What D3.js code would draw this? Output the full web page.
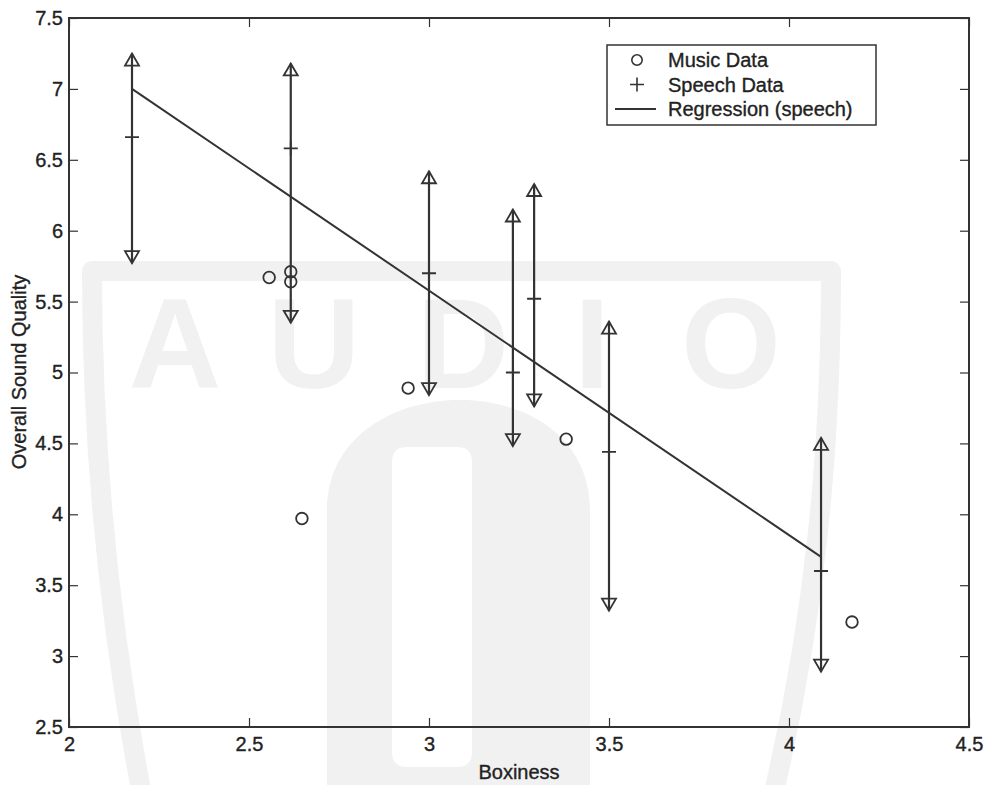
<!DOCTYPE html>
<html>
<head>
<meta charset="utf-8">
<script src="https://cdn.jsdelivr.net/npm/d3@7"></script>
<style>
  body { margin: 0; background: #fff; }
  svg { display: block; font-family: "Liberation Sans", Arial, sans-serif; }
</style>
</head>
<body>
<div class="chart-container"></div>
<script>
// speech data: mean with range (up/down triangles at the ends)
const speechX    = [2.175, 2.616, 3.0, 3.233, 3.292, 3.5, 4.089];
const speechMean = [6.66, 6.58, 5.70, 5.00, 5.52, 4.44, 3.60];
const speechHigh = [7.20, 7.13, 6.37, 6.10, 6.28, 5.31, 4.49];
const speechLow  = [5.82, 5.40, 4.89, 4.53, 4.81, 3.37, 2.94];

// music data: circles
const musicX = [2.556, 2.616, 2.616, 2.647, 2.942, 3.381, 4.175];
const musicY = [5.67, 5.71, 5.64, 3.97, 4.89, 4.53, 3.24];

// regression line (speech)
const regX = [2.175, 4.089];
const regY = [7.0, 3.70];

const xTicks = [2, 2.5, 3, 3.5, 4, 4.5];
const yTicks = [2.5, 3, 3.5, 4, 4.5, 5, 5.5, 6, 6.5, 7, 7.5];
const legendLabels = ["Music Data", "Speech Data", "Regression (speech)"];
const watermarkLetters = ["A", "U", "D", "I", "O"];

const W = 988, H = 785;
const ink = "#333";
const wm = "#f1f1f1";

const svg = d3.select(".chart-container").append("svg")
  .attr("width", W).attr("height", H);

//---- background watermark (shield + AUDIO)
const bg = svg.append("g");
bg.append("path")
  .attr("d", "M 143 800 C 108 620, 92 450, 92 271 L 831 271 C 831 450, 815 620, 772 800")
  .attr("fill", "none").attr("stroke", wm).attr("stroke-width", 20)
  .attr("stroke-linejoin", "round");
bg.append("path")
  .attr("fill-rule", "evenodd")
  .attr("fill", wm)
  .attr("d", "M 327 800 L 327 510 C 327 440, 390 400, 460 400 C 530 400, 590 440, 590 510 L 590 800 Z " +
             "M 392 752 L 392 462 Q 392 447 407 447 L 457 447 Q 472 447 472 462 L 472 752 Q 472 767 457 767 L 407 767 Q 392 767 392 752 Z");
const letterX = d3.scalePoint().domain(watermarkLetters).range([175, 731]);
bg.selectAll("text.wm").data(watermarkLetters).join("text")
  .attr("class", "wm")
  .attr("x", d => letterX(d) + (d === "D" ? 10 : 0))
  .attr("y", 388)
  .attr("text-anchor", "middle")
  .attr("font-size", 128)
  .attr("font-weight", "bold")
  .attr("fill", wm)
  .text(d => d);

//---- scales and axes
const xScale = d3.scaleLinear().domain([2, 4.5]).range([69, 969]);
const yScale = d3.scaleLinear().domain([2.5, 7.5]).range([727, 18]);
const fmt = d => String(d);

const xAxis = d3.axisBottom(xScale).tickValues(xTicks).tickFormat(fmt)
  .tickSizeInner(-9).tickSizeOuter(0).tickPadding(10);
const yAxis = d3.axisLeft(yScale).tickValues(yTicks).tickFormat(fmt)
  .tickSizeInner(-9).tickSizeOuter(0).tickPadding(6);
const xAxisTop = d3.axisTop(xScale).tickValues(xTicks).tickFormat("")
  .tickSizeInner(-9).tickSizeOuter(0);
const yAxisRight = d3.axisRight(yScale).tickValues(yTicks).tickFormat("")
  .tickSizeInner(-9).tickSizeOuter(0);

function styleAxis(g) {
  g.select(".domain").remove();
  g.selectAll(".tick line").attr("stroke", ink).attr("stroke-width", 1.2);
  g.selectAll(".tick text").attr("fill", "#222").attr("font-size", 20)
    .attr("stroke", "#222").attr("stroke-width", 0.35)
    .attr("font-family", "Liberation Sans, Arial, sans-serif");
}

svg.append("g").attr("transform", "translate(0," + 727 + ")").call(xAxis).call(styleAxis);
svg.append("g").attr("transform", "translate(69,0)").call(yAxis).call(styleAxis);
svg.append("g").attr("transform", "translate(0,18)").call(xAxisTop).call(styleAxis);
svg.append("g").attr("transform", "translate(969,0)").call(yAxisRight).call(styleAxis);

svg.append("rect")
  .attr("x", 69).attr("y", 18).attr("width", 900).attr("height", 709)
  .attr("fill", "none").attr("stroke", ink).attr("stroke-width", 2);

svg.append("text")
  .attr("x", 519).attr("y", 779)
  .attr("text-anchor", "middle").attr("font-size", 20).attr("fill", "#222")
  .attr("stroke", "#222").attr("stroke-width", 0.35)
  .text("Boxiness");
svg.append("text")
  .attr("transform", "translate(26,372) rotate(-90)")
  .attr("text-anchor", "middle").attr("font-size", 20).attr("fill", "#222")
  .attr("stroke", "#222").attr("stroke-width", 0.35)
  .text("Overall Sound Quality");

//---- marks
const plot = svg.append("g");
const speech = speechX.map((x, i) => ({x: x, mean: speechMean[i], hi: speechHigh[i], lo: speechLow[i]}));

plot.selectAll("line.range").data(speech).join("line")
  .attr("class", "range")
  .attr("x1", d => xScale(d.x)).attr("x2", d => xScale(d.x))
  .attr("y1", d => yScale(d.hi) - 7).attr("y2", d => yScale(d.lo) + 7)
  .attr("stroke", ink).attr("stroke-width", 2.2);

// up triangles at the top
plot.selectAll("path.up").data(speech).join("path")
  .attr("class", "up")
  .attr("transform", d => "translate(" + xScale(d.x) + "," + yScale(d.hi) + ")")
  .attr("d", "M 0 -7 L 7 5 L -7 5 Z")
  .attr("fill", "none").attr("stroke", ink).attr("stroke-width", 1.8);

// down triangles at the bottom
plot.selectAll("path.down").data(speech).join("path")
  .attr("class", "down")
  .attr("transform", d => "translate(" + xScale(d.x) + "," + yScale(d.lo) + ")")
  .attr("d", "M 0 7 L 7 -5 L -7 -5 Z")
  .attr("fill", "none").attr("stroke", ink).attr("stroke-width", 1.8);

// plus markers at mean
plot.selectAll("path.plus").data(speech).join("path")
  .attr("class", "plus")
  .attr("transform", d => "translate(" + xScale(d.x) + "," + yScale(d.mean) + ")")
  .attr("d", "M -7 0 L 7 0 M 0 -7 L 0 7")
  .attr("fill", "none").attr("stroke", ink).attr("stroke-width", 1.8);

// regression
const line = d3.line().x(d => xScale(d[0])).y(d => yScale(d[1]));
plot.append("path")
  .datum(regX.map((x, i) => [x, regY[i]]))
  .attr("d", line)
  .attr("fill", "none").attr("stroke", ink).attr("stroke-width", 2);

// music circles
plot.selectAll("circle.music").data(musicX.map((x, i) => [x, musicY[i]])).join("circle")
  .attr("class", "music")
  .attr("cx", d => xScale(d[0])).attr("cy", d => yScale(d[1]))
  .attr("r", 5.8)
  .attr("fill", "none").attr("stroke", ink).attr("stroke-width", 1.8);

//---- legend
const legend = svg.append("g");
legend.append("rect")
  .attr("x", 607).attr("y", 45).attr("width", 269).attr("height", 80)
  .attr("fill", "#fff").attr("stroke", ink).attr("stroke-width", 1.5);
const rowY = d3.scalePoint().domain(legendLabels).range([60, 109]);
legend.selectAll("text").data(legendLabels).join("text")
  .attr("x", 668).attr("y", d => rowY(d)).attr("dy", "0.35em")
  .attr("font-size", 20).attr("fill", "#222")
  .attr("stroke", "#222").attr("stroke-width", 0.35)
  .text(d => d);
legend.append("circle")
  .attr("cx", 637).attr("cy", rowY(legendLabels[0])).attr("r", 5.2)
  .attr("fill", "none").attr("stroke", ink).attr("stroke-width", 1.6);
legend.append("path")
  .attr("transform", "translate(637," + rowY(legendLabels[1]) + ")")
  .attr("d", "M -7 0 L 7 0 M 0 -7 L 0 7")
  .attr("stroke", ink).attr("stroke-width", 1.6);
legend.append("line")
  .attr("x1", 615).attr("x2", 656)
  .attr("y1", rowY(legendLabels[2])).attr("y2", rowY(legendLabels[2]))
  .attr("stroke", ink).attr("stroke-width", 1.8);
</script>
</body>
</html>
